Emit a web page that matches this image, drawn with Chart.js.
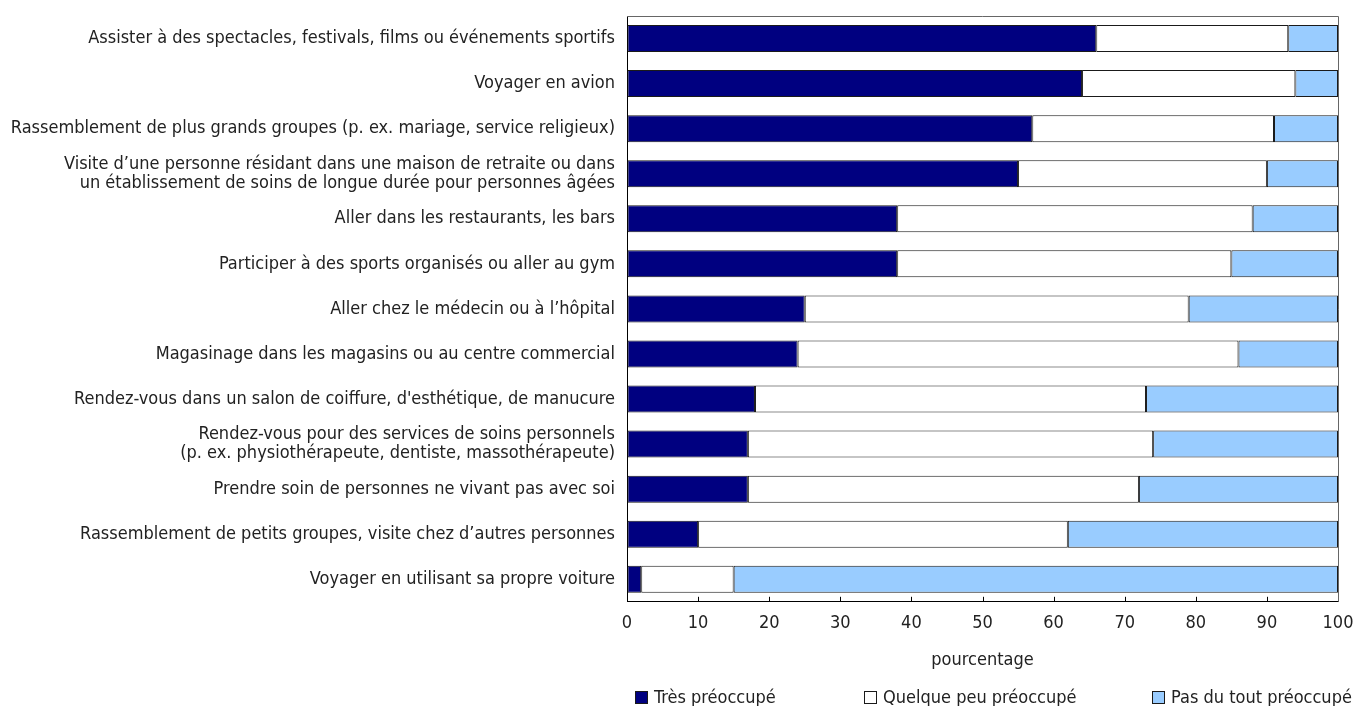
<!DOCTYPE html>
<html>
<head>
<meta charset="utf-8">
<script src="https://cdn.jsdelivr.net/npm/chart.js@4.4.0/dist/chart.umd.min.js"></script>
<style>
  body { margin: 0; background: #fff; }
  #wrap { position: relative; width: 1354px; height: 706px; }
  #legend { position: absolute; top: 687px; left: 0; width: 1354px; height: 20px;
            font-family: 'DejaVu Sans Condensed', 'Liberation Sans', Arial, sans-serif; font-size: 18px; color: #222; }
  #legend .item { position: absolute; top: 0; white-space: nowrap; line-height: 20px; }
  #legend .box { display: inline-block; width: 11px; height: 11px; border: 1px solid #1a1a1a;
                 vertical-align: -1px; margin-right: 6px; }
</style>
</head>
<body>
<div id="wrap">
  <canvas id="myChart" width="1354" height="706"></canvas>
  <div id="legend"></div>
</div>
<script>
// categories, top to bottom
const categories = [
    'Assister à des spectacles, festivals, films ou événements sportifs',
    'Voyager en avion',
    'Rassemblement de plus grands groupes (p. ex. mariage, service religieux)',
    ['Visite d\u2019une personne résidant dans une maison de retraite ou dans', 'un établissement de soins de longue durée pour personnes âgées'],
    'Aller dans les restaurants, les bars',
    'Participer à des sports organisés ou aller au gym',
    'Aller chez le médecin ou à l\u2019hôpital',
    'Magasinage dans les magasins ou au centre commercial',
    'Rendez-vous dans un salon de coiffure, d\'esthétique, de manucure',
    ['Rendez-vous pour des services de soins personnels', '(p. ex. physiothérapeute, dentiste, massothérapeute)'],
    'Prendre soin de personnes ne vivant pas avec soi',
    'Rassemblement de petits groupes, visite chez d\u2019autres personnes',
    'Voyager en utilisant sa propre voiture'
];

const tresPreoccupe = [66, 64, 57, 55, 38, 38, 25, 24, 18, 17, 17, 10, 2];
const quelquePeu    = [27, 30, 34, 35, 50, 47, 54, 62, 55, 57, 55, 52, 13];
const pasDuTout     = [7, 6, 9, 10, 12, 15, 21, 14, 27, 26, 28, 38, 85];

const xTicks = [0, 10, 20, 30, 40, 50, 60, 70, 80, 90, 100];

const FONT = "'DejaVu Sans Condensed', 'Liberation Sans', Arial, sans-serif";

// inward ticks on the bottom axis + frame on top and right
const frameTicks = {
    id: 'frameTicks',
    afterDraw(chart) {
        const ctx = chart.ctx;
        const a = chart.chartArea;
        const x = chart.scales.x;
        ctx.save();
        ctx.strokeStyle = '#000';
        ctx.lineWidth = 1;
        xTicks.forEach(v => {
            const px = Math.round(x.getPixelForValue(v)) + 0.5;
            ctx.beginPath();
            ctx.moveTo(px, a.bottom);
            ctx.lineTo(px, a.bottom - 5);
            ctx.stroke();
        });
        ctx.strokeStyle = '#666';
        ctx.beginPath();
        ctx.moveTo(a.left, Math.round(a.top) + 0.5);
        ctx.lineTo(Math.round(a.right) + 0.5, Math.round(a.top) + 0.5);
        ctx.lineTo(Math.round(a.right) + 0.5, a.bottom);
        ctx.stroke();
        ctx.restore();
    }
};

const common = { borderColor: '#1a1a1a', borderWidth: 1, borderSkipped: false, barPercentage: 0.6, categoryPercentage: 1 };

const chart = new Chart(document.getElementById('myChart'), {
    type: 'bar',
    data: {
        labels: categories,
        datasets: [
            Object.assign({ label: 'Très préoccupé', data: tresPreoccupe, backgroundColor: '#000080' }, common),
            Object.assign({ label: 'Quelque peu préoccupé', data: quelquePeu, backgroundColor: '#ffffff' }, common),
            Object.assign({ label: 'Pas du tout préoccupé', data: pasDuTout, backgroundColor: '#99ccff' }, common)
        ]
    },
    options: {
        indexAxis: 'y',
        responsive: false,
        animation: false,
        layout: { padding: { top: 16, right: 16, left: 0, bottom: 35 } },
        plugins: {
            tooltip: { enabled: false },
            legend: { display: false }
        },
        scales: {
            x: {
                stacked: true,
                min: 0,
                max: 100,
                afterBuildTicks: s => { s.ticks = xTicks.map(v => ({ value: v })); },
                afterFit: s => { s.paddingLeft = 0; s.paddingRight = 0; },
                grid: { display: true, drawOnChartArea: false, drawTicks: false },
                border: { display: true, color: '#000', width: 1 },
                ticks: { padding: 11, color: '#222', font: { family: FONT, size: 18 } },
                title: { display: true, text: 'pourcentage', color: '#222', padding: { top: 4, bottom: 0 }, font: { family: FONT, size: 18 } }
            },
            y: {
                stacked: true,
                afterFit: s => { s.width = 627; s.paddingTop = 0; s.paddingBottom = 0; },
                grid: { display: true, drawOnChartArea: false, drawTicks: false },
                border: { display: true, color: '#000', width: 1 },
                ticks: { autoSkip: false, padding: 12, color: '#222', font: { family: FONT, size: 18, lineHeight: 1.05 } }
            }
        }
    },
    plugins: [frameTicks]
});

// legend spread along the bottom, as in the original
const legendLeft = [635, 864, 1152];
const legendEl = document.getElementById('legend');
chart.data.datasets.forEach((ds, i) => {
    const item = document.createElement('span');
    item.className = 'item';
    item.style.left = legendLeft[i] + 'px';
    const box = document.createElement('span');
    box.className = 'box';
    box.style.background = ds.backgroundColor;
    item.appendChild(box);
    item.appendChild(document.createTextNode(ds.label));
    legendEl.appendChild(item);
});
</script>
</body>
</html>
